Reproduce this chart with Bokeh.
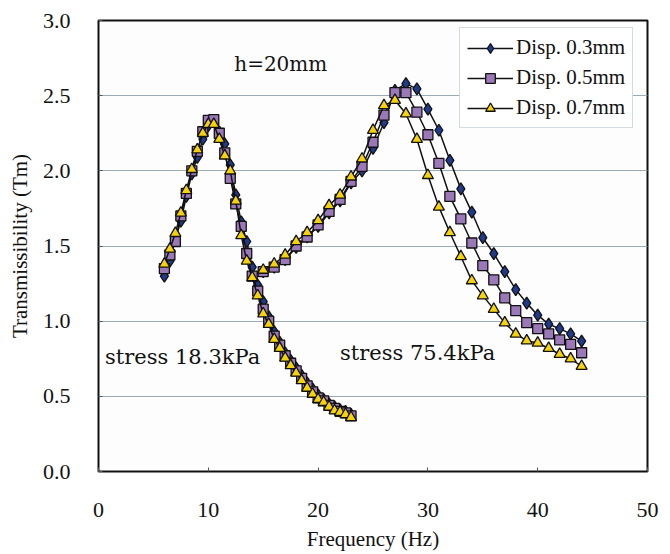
from bokeh.plotting import figure
from bokeh.models import Label, Legend, LegendItem, FixedTicker, CustomJSTickFormatter
from bokeh.embed import file_html
from bokeh.resources import INLINE

# ---- data ----
freq_low = [6, 6.5, 7, 7.5, 8, 8.5, 9, 9.5, 10, 10.5, 11, 11.5, 12, 12.5, 13, 13.5, 14,
            14.5, 15, 15.5, 16, 16.5, 17, 17.5, 18, 18.5, 19, 19.5, 20, 20.5, 21, 21.5, 22, 22.5, 23]
low_d03 = [1.30, 1.40, 1.55, 1.665, 1.83, 1.98, 2.09, 2.21, 2.30, 2.33, 2.26, 2.18, 2.04, 1.84, 1.66, 1.53, 1.36,
           1.24, 1.13, 1.03, 0.93, 0.86, 0.79, 0.74, 0.69, 0.64, 0.59, 0.55, 0.51, 0.48, 0.45, 0.43, 0.41, 0.40, 0.38]
low_d05 = [1.35, 1.44, 1.53, 1.70, 1.85, 2.00, 2.13, 2.26, 2.335, 2.34, 2.25, 2.12, 1.95, 1.78, 1.63, 1.45, 1.30,
           1.20, 1.08, 1.00, 0.90, 0.84, 0.77, 0.72, 0.67, 0.62, 0.57, 0.53, 0.49, 0.47, 0.44, 0.42, 0.40, 0.39, 0.37]
low_d07 = [1.38, 1.48, 1.585, 1.72, 1.87, 2.01, 2.14, 2.25, 2.31, 2.31, 2.21, 2.10, 2.00, 1.80, 1.57, 1.40, 1.29,
           1.17, 1.05, 0.98, 0.88, 0.82, 0.755, 0.705, 0.655, 0.605, 0.555, 0.515, 0.48, 0.46, 0.43, 0.405, 0.395, 0.38, 0.36]

freq_high = [15, 16, 17, 18, 19, 20, 21, 22, 23, 24, 25, 26, 27, 28, 29, 30, 31, 32, 33, 34, 35,
             36, 37, 38, 39, 40, 41, 42, 43, 44]
high_d03 = [1.33, 1.36, 1.41, 1.49, 1.56, 1.63, 1.72, 1.80, 1.92, 2.00, 2.15, 2.32, 2.535, 2.58, 2.545, 2.41, 2.27, 2.07, 1.88, 1.725, 1.555,
            1.45, 1.33, 1.21, 1.12, 1.04, 0.98, 0.95, 0.915, 0.867]
high_d05 = [1.33, 1.36, 1.41, 1.50, 1.56, 1.64, 1.73, 1.81, 1.93, 2.03, 2.19, 2.37, 2.52, 2.52, 2.39, 2.24, 2.05, 1.83, 1.68, 1.52, 1.37,
            1.275, 1.155, 1.07, 0.99, 0.95, 0.915, 0.875, 0.845, 0.79]
high_d07 = [1.34, 1.38, 1.44, 1.53, 1.59, 1.67, 1.77, 1.84, 1.96, 2.08, 2.27, 2.435, 2.47, 2.38, 2.21, 1.97, 1.76, 1.59, 1.43, 1.27, 1.17,
            1.08, 0.99, 0.915, 0.87, 0.855, 0.82, 0.78, 0.75, 0.70]

series_labels = ["Disp. 0.3mm", "Disp. 0.5mm", "Disp. 0.7mm"]
x_ticks = [0, 10, 20, 30, 40, 50]
y_ticks = [0.0, 0.5, 1.0, 1.5, 2.0, 2.5, 3.0]

SERIF = "Liberation Serif"

p = figure(width=670, height=554, output_backend="svg", toolbar_location=None,
           x_range=(0, 50), y_range=(0, 3.0),
           min_border_left=98, min_border_right=23, min_border_top=20, min_border_bottom=83)
p.background_fill_color = "#fdfdfe"
p.border_fill_color = "#ffffff"
p.outline_line_color = "#111111"
p.outline_line_width = 2

p.xgrid.grid_line_color = None
p.ygrid.grid_line_color = "#9aabb8"
p.ygrid.grid_line_width = 1.2

for ax in (p.xaxis[0], p.yaxis[0]):
    ax.axis_line_color = None
    ax.major_tick_in = 4
    ax.major_tick_out = 0
    ax.minor_tick_line_color = None
    ax.major_tick_line_color = "#555555"
    ax.major_label_text_font = SERIF
    ax.major_label_text_font_size = "22px"
    ax.major_label_text_color = "#111111"
    ax.axis_label_text_font = SERIF
    ax.axis_label_text_font_size = "21px"
    ax.axis_label_text_font_style = "normal"
    ax.axis_label_text_color = "#111111"

p.xaxis.ticker = FixedTicker(ticks=x_ticks)
p.yaxis.ticker = FixedTicker(ticks=y_ticks)
p.yaxis.formatter = CustomJSTickFormatter(code="return tick.toFixed(1);")
p.xaxis.axis_label = "Frequency (Hz)"
p.yaxis.axis_label = "Transmissibility (Tm)"
p.xaxis.major_label_standoff = 31
p.yaxis.major_label_standoff = 28
p.xaxis.axis_label_standoff = 7
p.yaxis.axis_label_standoff = 8

styles = [
    dict(marker="diamond", fill_color="#1f3a8a", size=12),
    dict(marker="square", fill_color="#9b78b8", size=10),
    dict(marker="triangle", fill_color="#f5d20a", size=11),
]
lows = [low_d03, low_d05, low_d07]
highs = [high_d03, high_d05, high_d07]

items = []
for i, st in enumerate(styles):
    rs = []
    for xs, ys in ((freq_low, lows[i]), (freq_high, highs[i])):
        l = p.line(xs, ys, line_color="#111111", line_width=1.5)
        s = p.scatter(xs, ys, marker=st["marker"], size=st["size"], fill_color=st["fill_color"],
                      line_color="#111111", line_width=1.3)
        rs.extend([l, s])
    items.append(LegendItem(label=series_labels[i], renderers=rs[:2]))

legend = Legend(items=items, location=(361, 343))
legend.label_text_font = SERIF
legend.label_text_font_size = "21px"
legend.label_text_color = "#111111"
legend.glyph_width = 46
legend.glyph_height = 24
legend.label_height = 24
legend.spacing = 5
legend.padding = 7
legend.margin = 0
legend.label_standoff = 3
legend.border_line_color = "#a8b8c6"
legend.border_line_width = 1
legend.background_fill_color = "#ffffff"
legend.background_fill_alpha = 1
p.add_layout(legend)

ANN = "DejaVu Serif"
p.add_layout(Label(x=16.6, y=2.71, text="h=20mm", text_font=ANN, text_font_size="20px",
                   text_align="center", text_baseline="middle", text_color="#111111"))
p.add_layout(Label(x=0.6, y=0.76, text="stress 18.3kPa", text_font=ANN, text_font_size="21px",
                   text_align="left", text_baseline="middle", text_color="#111111"))
p.add_layout(Label(x=22.0, y=0.79, text="stress 75.4kPa", text_font=ANN, text_font_size="21px",
                   text_align="left", text_baseline="middle", text_color="#111111"))

open("out.html", "w").write(file_html(p, INLINE))
